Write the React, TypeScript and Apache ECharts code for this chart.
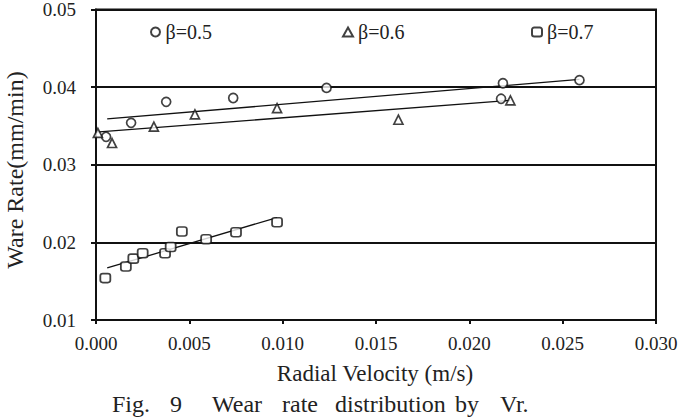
import React, { useEffect, useRef } from "react";
import * as echarts from "echarts";

const beta05X = [0.00054, 0.00188, 0.00376, 0.00735, 0.01235, 0.0217, 0.0218, 0.0259];
const beta05Y = [0.0336, 0.0354, 0.0381, 0.0386, 0.0399, 0.0385, 0.0405, 0.0409];
const beta06X = [0.0001, 0.00086, 0.0031, 0.0053, 0.0097, 0.0162, 0.0222];
const beta06Y = [0.0341, 0.0328, 0.0349, 0.0365, 0.0373, 0.0358, 0.0383];
const beta07X = [0.0005, 0.0016, 0.002, 0.0025, 0.0037, 0.004, 0.0046, 0.0059, 0.0075, 0.0097];
const beta07Y = [0.0154, 0.0169, 0.0179, 0.0186, 0.0186, 0.0194, 0.0214, 0.0204, 0.0213, 0.0226];
const fit05 = [[0.0006, 0.0359], [0.0259, 0.041]];
const fit06 = [[0.0, 0.0342], [0.0222, 0.0383]];
const fit07 = [[0.0006, 0.0167], [0.0097, 0.0232]];
const seriesNames = ["β=0.5", "β=0.6", "β=0.7"];
const xTitle = "Radial Velocity (m/s)";
const yTitle = "Ware Rate(mm/min)";
const captionWords = ["Fig.", "9", "Wear", "rate", "distribution", "by", "Vr."];

const FONT = "Liberation Serif";
const INK = "#222";

const zip = (xs: number[], ys: number[]) => xs.map((x, i) => [x, ys[i]]);

export default function App() {
  const ref = useRef<HTMLDivElement>(null);
  useEffect(() => {
    if (!ref.current) return;
    const chart = echarts.init(ref.current, null, { renderer: "svg" });
    const markerStyle = { color: "#fff", borderColor: "#111", borderWidth: 1.7 };
    const fitStyle = { color: "#111", width: 1.3 };
    const captionX = [112, 170, 212, 282, 335, 455, 500];
    chart.setOption({
      animation: false,
      backgroundColor: "#fff",
      textStyle: { fontFamily: FONT },
      grid: {
        left: 96,
        right: 27,
        top: 8,
        bottom: 97,
        show: true,
        borderColor: "#111",
        borderWidth: 2,
      },
      legend: seriesNames.map((n, i) => ({
        data: [n],
        left: [145, 337, 526][i],
        top: 17,
        itemWidth: 10,
        itemHeight: 9,
        textStyle: { fontFamily: FONT, fontSize: 20, color: INK },
        selectedMode: false,
      })),
      xAxis: {
        type: "value",
        min: 0,
        max: 0.03,
        interval: 0.005,
        axisLine: { lineStyle: { color: "#111", width: 2 } },
        axisTick: { show: true, length: 4, lineStyle: { color: "#111", width: 2 } },
        splitLine: { show: false },
        axisLabel: {
          formatter: (v: number) => v.toFixed(3),
          fontFamily: FONT,
          fontSize: 19,
          color: INK,
          margin: 14,
        },
      },
      yAxis: {
        type: "value",
        min: 0.01,
        max: 0.05,
        interval: 0.01,
        axisLine: { show: true, lineStyle: { color: "#111", width: 2 } },
        axisTick: { show: true, length: 5, lineStyle: { color: "#111", width: 2 } },
        splitLine: { show: true, lineStyle: { color: "#111", width: 2 } },
        axisLabel: {
          formatter: (v: number) => v.toFixed(2),
          fontFamily: FONT,
          fontSize: 19,
          color: INK,
          margin: 20,
        },
      },
      graphic: [
        {
          type: "text",
          x: 15,
          y: 170,
          rotation: Math.PI / 2,
          style: {
            text: yTitle,
            fontFamily: FONT,
            fontSize: 24,
            fill: INK,
            align: "center",
            verticalAlign: "middle",
          },
        },
        {
          type: "text",
          x: 375,
          y: 373,
          style: {
            text: xTitle,
            fontFamily: FONT,
            fontSize: 23,
            fill: INK,
            align: "center",
            verticalAlign: "middle",
          },
        },
        ...captionWords.map((w, i) => ({
          type: "text",
          x: captionX[i],
          y: 416,
          style: {
            text: w,
            fontFamily: FONT,
            fontSize: 24,
            fill: INK,
            align: "left",
            verticalAlign: "bottom",
          },
        })),
      ],
      series: [
        {
          name: seriesNames[0],
          type: "scatter",
          symbol: "circle",
          symbolSize: 9,
          itemStyle: markerStyle,
          data: zip(beta05X, beta05Y),
          z: 5,
        },
        {
          name: seriesNames[1],
          type: "scatter",
          symbol: "triangle",
          symbolSize: 9,
          itemStyle: markerStyle,
          data: zip(beta06X, beta06Y),
          z: 5,
        },
        {
          name: seriesNames[2],
          type: "scatter",
          symbol: "roundRect",
          symbolSize: [10, 9],
          itemStyle: markerStyle,
          data: zip(beta07X, beta07Y),
          z: 5,
        },
        { type: "line", data: fit05, symbol: "none", lineStyle: fitStyle, z: 3 },
        { type: "line", data: fit06, symbol: "none", lineStyle: fitStyle, z: 3 },
        { type: "line", data: fit07, symbol: "none", lineStyle: fitStyle, z: 3 },
      ],
    });
    return () => chart.dispose();
  }, []);
  return <div ref={ref} style={{ width: 683, height: 417, position: "absolute", left: 0, top: 0 }} />;
}
